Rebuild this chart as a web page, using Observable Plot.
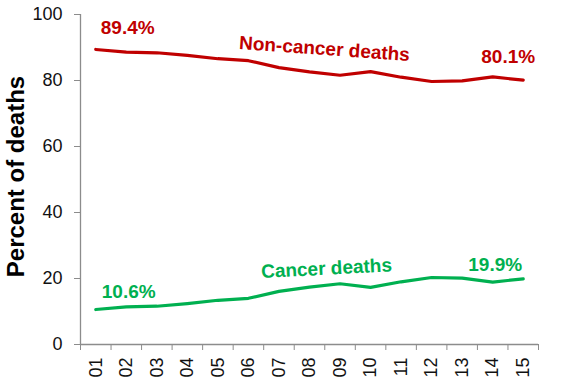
<!DOCTYPE html>
<html>
<head>
<meta charset="utf-8">
<script src="https://cdn.jsdelivr.net/npm/d3@7"></script>
<script src="https://cdn.jsdelivr.net/npm/@observablehq/plot@0.6"></script>
<style>
  html, body { margin: 0; padding: 0; background: #fff; }
  #chart svg { display: block; }
</style>
</head>
<body>
<div id="chart"></div>
<script>
const years = ["01","02","03","04","05","06","07","08","09","10","11","12","13","14","15"];
const nonCancer = [89.4, 88.6, 88.4, 87.6, 86.6, 86.0, 83.9, 82.6, 81.6, 82.7, 81.0, 79.7, 79.9, 81.1, 80.1];
const cancer = [10.6, 11.4, 11.6, 12.4, 13.4, 14.0, 16.1, 17.4, 18.4, 17.3, 19.0, 20.3, 20.1, 18.9, 19.9];
const yTicks = [0, 20, 40, 60, 80, 100];
const yLabel = "Percent of deaths";

const RED = "#c00000";
const GREEN = "#00b050";
const AXIS = "#8c8c8c";

const rows = years.map((y, i) => ({pos: i + 1, year: y, nonCancer: nonCancer[i], cancer: cancer[i]}));
const bandEdges = d3.range(0, years.length + 1).map(i => i + 0.5);

const idx = y => years.indexOf(y);
const annRed = [
  {text: nonCancer[0] + "%", pos: 1, v: nonCancer[0], anchor: "start", dx: 5, dy: -22, rotate: 0},
  {text: nonCancer[14] + "%", pos: 15, v: nonCancer[14], anchor: "middle", dx: -15, dy: -23, rotate: 0},
  {text: "Non-cancer deaths", pos: 8, v: nonCancer[idx("08")], anchor: "middle", dx: 15, dy: -23, rotate: 4}
];
const annGreen = [
  {text: cancer[0] + "%", pos: 1, v: cancer[0], anchor: "start", dx: 6, dy: -17.5, rotate: 0},
  {text: cancer[14] + "%", pos: 15, v: cancer[14], anchor: "middle", dx: -28, dy: -13.5, rotate: 0},
  {text: "Cancer deaths", pos: 8, v: cancer[idx("08")], anchor: "middle", dx: 17, dy: -18.5, rotate: -3}
];

function annMarks(list, color) {
  return list.map(a => Plot.text([a], {
    x: "pos", y: "v", text: "text",
    textAnchor: a.anchor, dx: a.dx, dy: a.dy, rotate: a.rotate,
    fill: color, fontSize: 19, fontWeight: "bold"
  }));
}

const chart = Plot.plot({
  width: 564,
  height: 382,
  marginLeft: 80,
  marginRight: 26,
  marginTop: 14,
  marginBottom: 38,
  style: {fontFamily: "Arial, 'Liberation Sans', sans-serif", background: "#fff"},
  x: {type: "linear", domain: [0.5, years.length + 0.5]},
  y: {domain: [0, 100]},
  marks: [
    Plot.axisY({ticks: yTicks, tickSize: 6, tickPadding: 12, fontSize: 18, stroke: AXIS, fill: "#111", label: null}),
    Plot.axisX({ticks: bandEdges, tickSize: 6, tickFormat: () => "", stroke: AXIS, label: null}),
    Plot.axisX({ticks: rows.map(d => d.pos), tickSize: 0, tickPadding: 13, tickRotate: -90,
      tickFormat: p => years[p - 1], fontSize: 18, fill: "#111", label: null}),
    Plot.ruleX([0.5], {stroke: AXIS, strokeWidth: 1.3}),
    Plot.ruleY([0], {stroke: AXIS, strokeWidth: 1.3}),
    Plot.lineY(rows, {x: "pos", y: "nonCancer", stroke: RED, strokeWidth: 3.2}),
    Plot.lineY(rows, {x: "pos", y: "cancer", stroke: GREEN, strokeWidth: 3.2}),
    ...annMarks(annRed, RED),
    ...annMarks(annGreen, GREEN),
    Plot.text([yLabel], {frameAnchor: "left", textAnchor: "middle", lineAnchor: "middle",
      dx: -64, dy: -3, rotate: -90, text: d => d,
      fontSize: 24, fontWeight: "bold", fill: "#000"})
  ]
});
document.getElementById("chart").appendChild(chart);
</script>
</body>
</html>
